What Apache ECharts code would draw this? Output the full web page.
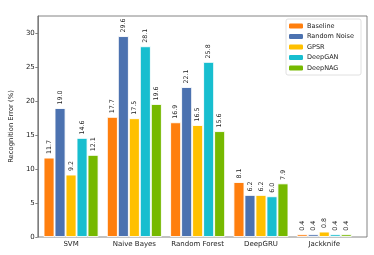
<!DOCTYPE html>
<html>
<head>
<meta charset="utf-8">
<script src="https://cdn.jsdelivr.net/npm/echarts@6/dist/echarts.min.js"></script>
<style>html,body{margin:0;padding:0;background:#fff}#c{width:374px;height:255px}</style>
</head>
<body>
<div id="c"></div>
<script>
const categories = ['SVM', 'Naive Bayes', 'Random Forest', 'DeepGRU', 'Jackknife'];
const seriesNames = ['Baseline', 'Random Noise', 'GPSR', 'DeepGAN', 'DeepNAG'];
const baseline = [11.7, 17.7, 16.9, 8.1, 0.4];
const randomNoise = [19.0, 29.6, 22.1, 6.2, 0.4];
const gpsr = [9.2, 17.5, 16.5, 6.2, 0.8];
const deepGAN = [14.6, 28.1, 25.8, 6.0, 0.4];
const deepNAG = [12.1, 19.6, 15.6, 7.9, 0.4];
const yTicks = [0, 5, 10, 15, 20, 25, 30];
const yMax = 32.56;

const colors = ['#ff7f0e', '#4c72b0', '#ffc000', '#17becf', '#76b900'];
const values = [baseline, randomNoise, gpsr, deepGAN, deepNAG];
const font = 'DejaVu Sans';

const chart = echarts.init(document.getElementById('c'), null, {renderer: 'canvas'});
chart.setOption({
  animation: false,
  textStyle: {fontFamily: font},
  legend: {
    orient: 'vertical',
    left: 286, top: 19,
    padding: [3.5, 7, 3.5, 3],
    borderColor: '#d8d8d8', borderWidth: 0.8, borderRadius: 2,
    backgroundColor: '#fff',
    itemWidth: 14, itemHeight: 5, itemGap: 3.5, itemStyle: {borderWidth: 0},
    textStyle: {fontFamily: font, fontSize: 6.5, color: '#222', lineHeight: 7, padding: [0,0,0,-1]},
    data: seriesNames
  },
  grid: [
    {left: 29, right: 7, top: 16, bottom: 18, show: true, borderColor: '#666', borderWidth: 0.8, backgroundColor: 'transparent'},
    {left: 39.4, width: 316.5, top: 16, bottom: 18}
  ],
  xAxis: [
    {type: 'value', gridIndex: 0, show: false, min: 0, max: 1},
    {type: 'category', gridIndex: 1, data: categories,
     axisLine: {show: false}, axisTick: {show: false},
     axisLabel: {interval: 0, fontFamily: font, fontSize: 7, color: '#222', margin: 3.5}}
  ],
  yAxis: [
    {type: 'value', gridIndex: 0, min: 0, max: yMax, interval: 5,
     name: 'Recognition Error (%)', nameLocation: 'middle', nameGap: 15,
     nameTextStyle: {fontFamily: font, fontSize: 6.8, color: '#222'},
     axisLine: {show: true, lineStyle: {color: '#666', width: 0.8}},
     axisTick: {show: true, length: 2.5, customValues: yTicks, lineStyle: {color: '#666', width: 0.8}},
     axisLabel: {fontFamily: font, fontSize: 7, color: '#222', margin: 3, customValues: yTicks},
     splitLine: {show: false}},
    {type: 'value', gridIndex: 1, min: 0, max: yMax, show: false, splitLine: {show: false}}
  ],
  series: seriesNames.map((n, i) => ({
    name: n, type: 'bar', xAxisIndex: 1, yAxisIndex: 1,
    data: values[i], barWidth: 11, barGap: '0%',
    itemStyle: {color: colors[i], borderColor: '#fff', borderWidth: 0.9},
    label: {show: true, position: 'top', rotate: 90, align: 'left', verticalAlign: 'middle',
            distance: 3.5, fontFamily: font, fontSize: 6.3, color: '#222',
            formatter: p => p.value.toFixed(1)}
  }))
});
</script>
</body>
</html>
